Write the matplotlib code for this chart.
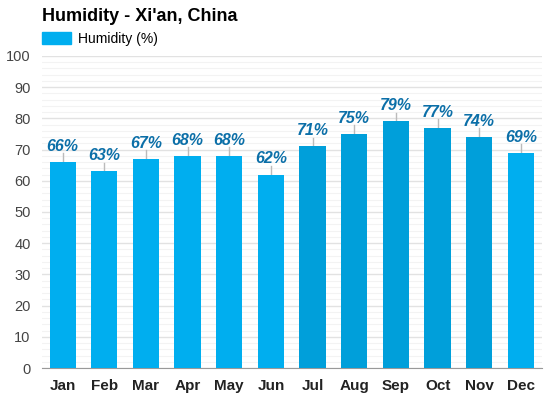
import numpy as np
import matplotlib.pyplot as plt
from matplotlib.patches import Patch

plt.rcParams['font.family'] = ['Liberation Sans', 'DejaVu Sans']

months = ['Jan', 'Feb', 'Mar', 'Apr', 'May', 'Jun', 'Jul', 'Aug', 'Sep', 'Oct', 'Nov', 'Dec']
humidity = [66, 63, 67, 68, 68, 62, 71, 75, 79, 77, 74, 69]
summer = ['Jul', 'Aug', 'Sep', 'Oct', 'Nov']

light = '#00aeef'
dark = '#009fda'
colors = [dark if m in summer else light for m in months]

fig = plt.figure(figsize=(5.5, 3.93), dpi=100)
ax = fig.add_axes([0.076, 0.0636, 0.909, 0.794])

x = np.arange(len(months))
ax.bar(x, humidity, width=0.63, color=colors, zorder=3)

for xi, v in zip(x, humidity):
    ax.plot([xi, xi], [v, v + 2.8], color='#bbbbbb', lw=1, zorder=2)
    ax.text(xi, v + 2.6, f'{v}%', ha='center', va='bottom', fontsize=11.5,
            fontweight='bold', fontstyle='italic', color='#0b6fa8', zorder=4)

ax.set_xlim(-0.5, len(months) - 0.5)
ax.set_ylim(0, 100)
ax.set_yticks(range(0, 101, 10))
ax.set_yticks(range(0, 101, 2), minor=True)
ax.grid(axis='y', which='major', color='#e2e2e2', lw=1, zorder=0)
ax.grid(axis='y', which='minor', color='#f3f3f3', lw=0.8, zorder=0)
ax.set_xticks(x)
ax.set_xticklabels(months, fontweight='bold', fontsize=11, color='#222222')
ax.tick_params(axis='y', which='both', length=0, labelsize=10.5, labelcolor='#444444', pad=8)
ax.tick_params(axis='x', length=0, pad=8)
for s in ['top', 'right', 'left']:
    ax.spines[s].set_visible(False)
ax.spines['bottom'].set_color('#999999')

fig.text(0.076, 0.958, "Humidity - Xi'an, China", fontsize=13, fontweight='bold', va='center')
fig.legend(handles=[Patch(color=light, label='Humidity (%)')], loc='center left',
           bbox_to_anchor=(0.076, 0.902), frameon=False, fontsize=10,
           borderpad=0, borderaxespad=0,
           handlelength=2.1, handleheight=1.0, handletextpad=0.5)

fig.savefig('out.png', dpi=100)
